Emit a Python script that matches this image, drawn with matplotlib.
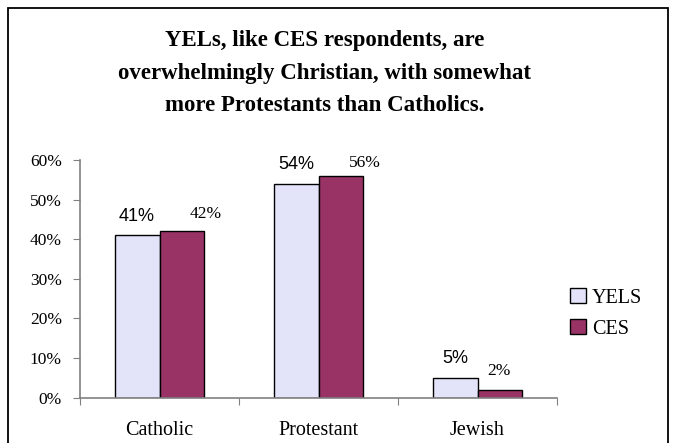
import numpy as np
import matplotlib
matplotlib.use("Agg")
import matplotlib.pyplot as plt
from matplotlib.patches import Rectangle

categories = ["Catholic", "Protestant", "Jewish"]
series_names = ["YELS", "CES"]
yels = [41, 54, 5]
ces = [42, 56, 2]
yticks = [0, 10, 20, 30, 40, 50, 60]

title = ("YELs, like CES respondents, are\n"
         "overwhelmingly Christian, with somewhat\n"
         "more Protestants than Catholics.")

# label nudges (points) as they sit in the original
yels_dx = [0, 0, 0]
yels_dy = [10.5, 10.5, 10.5]
ces_dx = [17, 17, -1]
ces_dy = [9.5, 6.5, 10.5]

SERIF = "Liberation Serif"
SANS = "Liberation Sans"
C_YELS = "#E3E3FA"
C_CES = "#993366"

W, H = 673, 443
fig = plt.figure(figsize=(W / 100, H / 100), dpi=100)

# outer frame
fig.patches.append(Rectangle((8 / W, -0.05), 660 / W, 1.05 - 8 / H,
                             transform=fig.transFigure, fill=False,
                             edgecolor="black", linewidth=1.3))

fig.text(325 / W, 1 - 73 / H, title, ha="center", va="center",
         fontfamily=SERIF, fontweight="bold", fontsize=16.5, linespacing=1.72)

ax = fig.add_axes([80 / W, 45.3 / H, 477 / W, 237.7 / H])
x = np.arange(len(categories))
bw = 0.283
b1 = ax.bar(x - bw / 2, yels, bw, color=C_YELS, edgecolor="black", linewidth=1, label=series_names[0])
b2 = ax.bar(x + bw / 2, ces, bw, color=C_CES, edgecolor="black", linewidth=1, label=series_names[1])

for i, v in enumerate(yels):
    ax.annotate(f"{v}%", (x[i] - bw / 2, v), xytext=(yels_dx[i], yels_dy[i]),
                textcoords="offset points", ha="center", va="baseline",
                fontfamily=SANS, fontsize=13)
for i, v in enumerate(ces):
    ax.annotate(f"{v}%", (x[i] + bw / 2, v), xytext=(ces_dx[i], ces_dy[i]),
                textcoords="offset points", ha="center", va="baseline",
                fontfamily=SERIF, fontsize=12.5)

ax.set_xlim(-0.5, len(categories) - 0.5)
ax.set_ylim(0, 60)
ax.set_yticks(yticks)
ax.set_yticklabels([f"{t}%" for t in yticks], fontfamily=SERIF, fontsize=12.5)
ax.set_xticks(np.arange(len(categories) + 1) - 0.5)
ax.set_xticklabels([])
ax.set_xticks(x, minor=True)
ax.set_xticklabels(categories, minor=True, fontfamily=SERIF, fontsize=14.5)
ax.tick_params(axis="x", which="minor", length=0, pad=17)
ax.tick_params(axis="x", which="major", length=5, color="#808080", direction="out")
ax.tick_params(axis="y", length=5, color="#808080", pad=8)

for s in ["top", "right"]:
    ax.spines[s].set_visible(False)
for s in ["left", "bottom"]:
    ax.spines[s].set_color("#808080")
    ax.spines[s].set_linewidth(1.2)

leg = fig.legend(handles=[b1, b2], labels=series_names, loc="upper left",
                 bbox_to_anchor=(562 / W, 1 - 280 / H), frameon=False,
                 prop={"family": SERIF, "size": 14.5},
                 handlelength=0.8, handleheight=0.8, handletextpad=0.3,
                 labelspacing=0.55, borderaxespad=0)

fig.savefig("out.png", dpi=100)
